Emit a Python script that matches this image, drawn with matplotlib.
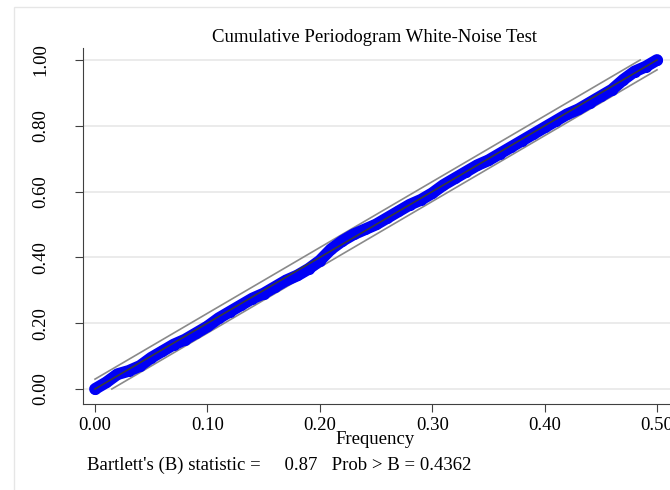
import matplotlib
matplotlib.use("Agg")
import matplotlib.pyplot as plt
from matplotlib.patches import Rectangle

# cumulative periodogram (frequency step 0.01)
freq = [0.00, 0.01, 0.02, 0.03, 0.04, 0.05, 0.06, 0.07, 0.08, 0.09,
        0.10, 0.11, 0.12, 0.13, 0.14, 0.15, 0.16, 0.17, 0.18, 0.19,
        0.20, 0.21, 0.22, 0.23, 0.24, 0.25, 0.26, 0.27, 0.28, 0.29,
        0.30, 0.31, 0.32, 0.33, 0.34, 0.35, 0.36, 0.37, 0.38, 0.39,
        0.40, 0.41, 0.42, 0.43, 0.44, 0.45, 0.46, 0.47, 0.48, 0.49, 0.50]
cum_pgram = [0.000, 0.020, 0.045, 0.055, 0.070, 0.095, 0.115, 0.135, 0.150, 0.170,
             0.190, 0.215, 0.235, 0.255, 0.275, 0.290, 0.310, 0.330, 0.345, 0.365,
             0.390, 0.425, 0.450, 0.470, 0.485, 0.500, 0.520, 0.540, 0.560, 0.575,
             0.595, 0.620, 0.640, 0.660, 0.680, 0.695, 0.715, 0.735, 0.755, 0.775,
             0.795, 0.815, 0.835, 0.850, 0.870, 0.890, 0.910, 0.940, 0.965, 0.980, 1.000]
band_offset = 0.03
yticks = [0.0, 0.2, 0.4, 0.6, 0.8, 1.0]
xticks = [0.0, 0.1, 0.2, 0.3, 0.4, 0.5]

plt.rcParams["font.family"] = ["Liberation Serif", "DejaVu Serif"]

fig = plt.figure(figsize=(6.7, 4.9), dpi=100)
fig.patches.append(Rectangle((14 / 670, -0.1), 1.2, 1 - 7 / 490 + 0.1,
                             transform=fig.transFigure, fill=False,
                             edgecolor="#e6e6e6", lw=1))
ax = fig.add_axes([83 / 670, 86 / 490, 587 / 670, 356 / 490])

for y in yticks:
    ax.axhline(y, color="#e8e8e8", lw=1.2, zorder=0)

# confidence bands
c = band_offset
ax.plot([0, (1 - c) / 2], [c, 1], color="#8a8a8a", lw=1.2, zorder=2)
ax.plot([c / 2, 0.5], [0, 1 - c], color="#8a8a8a", lw=1.2, zorder=2)

ax.plot(freq, cum_pgram, color="#0000f5", lw=8.5, solid_capstyle="round",
        solid_joinstyle="round", marker="o", ms=8, mew=0, mfc="#0000f5",
        zorder=3)
ax.plot([0, 0.5], [0, 1], color="#3a3a3a", lw=1.2, zorder=4)

ax.set_xlim(-12 / 1124, 0.5 + 13 / 1124)
ax.set_ylim(-15 / 329, 1 + 12 / 329)
ax.set_xticks(xticks)
ax.set_xticklabels([f"{v:.2f}" for v in xticks])
ax.set_yticks(yticks)
ax.set_yticklabels([f"{v:.2f}" for v in yticks], rotation=90, va="center")
ax.tick_params(labelsize=13.5, length=6, color="#404040")
ax.tick_params(axis="x", pad=3)
ax.tick_params(axis="y", pad=18)
for s in ("top", "right"):
    ax.spines[s].set_visible(False)
for s in ("left", "bottom"):
    ax.spines[s].set_color("#404040")

fig.text(375 / 670, 1 - 37 / 490, "Cumulative Periodogram White-Noise Test",
         ha="center", va="center", fontsize=13.5)
fig.text(375 / 670, 1 - 439 / 490, "Frequency", ha="center", va="center",
         fontsize=13.5)
fig.text(87 / 670, 1 - 465 / 490,
         "Bartlett's (B) statistic =     0.87   Prob > B = 0.4362",
         ha="left", va="center", fontsize=13.5)

fig.savefig("out.png", dpi=100)
